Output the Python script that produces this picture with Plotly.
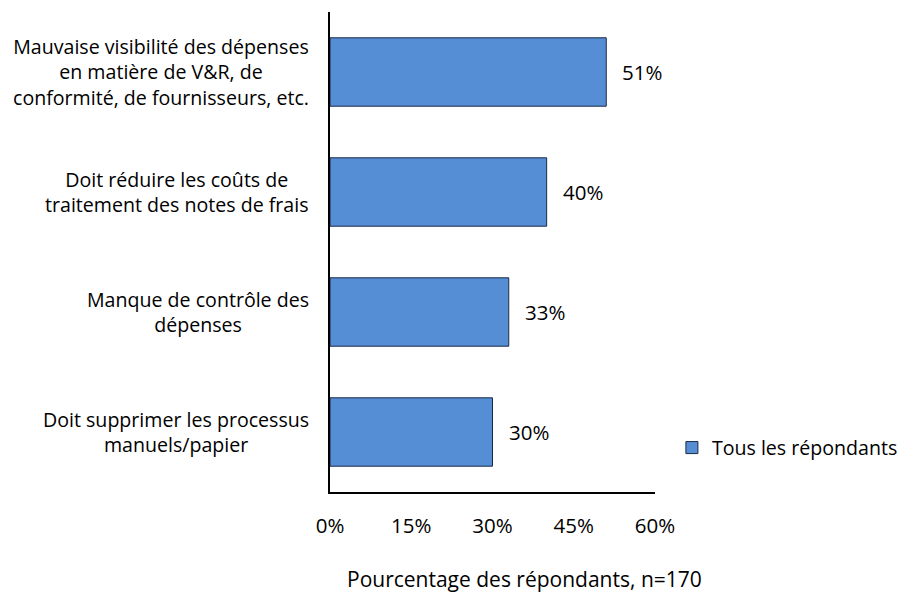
import plotly.graph_objects as go

# Data
categories = [
    "Mauvaise visibilité des dépenses<br>en matière de V&R, de<br>conformité, de fournisseurs, etc.",
    "Doit réduire les coûts de<br>traitement des notes de frais",
    "Manque de contrôle des<br>dépenses",
    "Doit supprimer les processus<br>manuels/papier",
]
values = [51, 40, 33, 30]
tick_vals = [0, 15, 30, 45, 60]
tick_text = ["0%", "15%", "30%", "45%", "60%"]
series_name = "Tous les répondants"
x_title = "Pourcentage des répondants, n=170"

FONT = "Open Sans"
fig = go.Figure()
fig.add_trace(go.Bar(
    y=categories, x=values, orientation="h", name=series_name,
    marker=dict(color="#558ED5", line=dict(color="#1b2a44", width=1)),
    width=0.57, showlegend=True,
))

# value labels to the right of each bar
for cat, v in zip(categories, values):
    fig.add_annotation(x=v, y=cat, text="%d%%" % v, showarrow=False,
                       xanchor="left", xshift=14, font=dict(family=FONT, size=20.5, color="#000"))

# category labels: text centred, block pushed against the axis
for cat in categories:
    fig.add_annotation(x=0, xref="paper", xshift=-19, y=cat, text=cat, showarrow=False,
                       xanchor="right", align="center", font=dict(family=FONT, size=19.6, color="#000"))

# axis title (sits right of the plot centre in the reference)
fig.add_annotation(x=0.597, xref="paper", y=0, yref="paper", yshift=-87,
                   text=x_title, showarrow=False, xanchor="center", yanchor="middle",
                   font=dict(family=FONT, size=21, color="#000"))

# page has an 8px body margin, so the figure is a bit smaller than the window
fig.update_layout(
    width=902, height=584,
    margin=dict(l=322, r=255, t=4, b=100),
    paper_bgcolor="white", plot_bgcolor="white",
    font=dict(family=FONT, size=19.6, color="#000"),
    legend=dict(x=1.052, y=0.092, xanchor="left", yanchor="middle",
                font=dict(family=FONT, size=19.6), itemwidth=30),
    xaxis=dict(range=[0, 60], tickvals=tick_vals, ticktext=tick_text,
               tickfont=dict(family=FONT, size=20.5),
               showgrid=False, zeroline=False, showline=True, linecolor="#000",
               linewidth=1.5, ticks="", ticklabelstandoff=15, automargin=False),
    yaxis=dict(autorange="reversed", showticklabels=False, showgrid=False,
               showline=True, linecolor="#000", linewidth=1.5, ticks="",
               automargin=False),
)

fig.write_html("out.html")
